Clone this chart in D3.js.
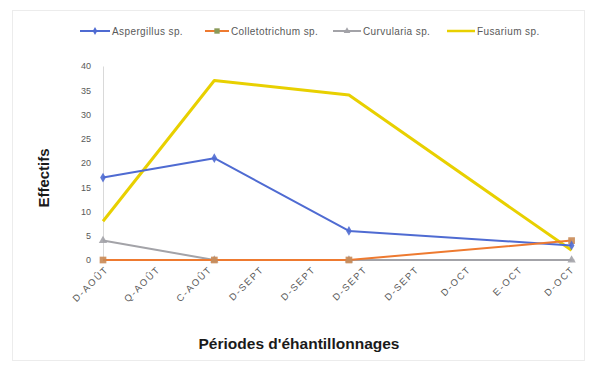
<!DOCTYPE html>
<html>
<head>
<meta charset="utf-8">
<script src="https://cdn.jsdelivr.net/npm/d3@7"></script>
<style>
  html, body { margin: 0; padding: 0; background: #fff; }
  svg { display: block; font-family: "Liberation Sans", "DejaVu Sans", sans-serif; }
</style>
</head>
<body>
<svg id="chart" width="590" height="367"></svg>
<script>
// Sampling periods shown on the axis (one label per tick)
const periodLabels = ["D-AOÛT", "Q-AOÛT", "C-AOÛT", "D-SEPT", "D-SEPT", "D-SEPT", "D-SEPT", "D-OCT", "E-OCT", "D-OCT"];
// Position of each sampling date along the period axis (in tick units)
const samplePositions = [0, 2.15, 4.75, 9.05];

// Counts per genus at each sampling date
const aspergillus = [17, 21, 6, 3];
const colletotrichum = [0, 0, 0, 4];
const curvularia = [4, 0, 0, 0];
const fusarium = [8, 37, 34, 2];

const yTicks = [0, 5, 10, 15, 20, 25, 30, 35, 40];

const series = [
  { name: "Aspergillus sp.", values: aspergillus, color: "#4F6BD2", marker: "diamond", width: 2 },
  { name: "Colletotrichum sp.", values: colletotrichum, color: "#EE7A30", marker: "square", width: 2 },
  { name: "Curvularia sp.", values: curvularia, color: "#A3A3A8", marker: "triangle", width: 2 },
  { name: "Fusarium sp.", values: fusarium, color: "#E8D000", marker: null, width: 3 }
];

const svg = d3.select("#chart");

// faint chart frame
svg.append("rect")
  .attr("x", 12.5).attr("y", 10.5)
  .attr("width", 572).attr("height", 350)
  .attr("fill", "none").attr("stroke", "#ececec");

const x = d3.scaleLinear().domain([0, 9]).range([103, 569]);
const y = d3.scaleLinear().domain([0, 40]).range([260, 66]);

// y axis
const yAxis = svg.append("g")
  .attr("transform", "translate(103,0)")
  .call(d3.axisLeft(y).tickValues(yTicks).tickSize(0).tickPadding(12));
yAxis.select(".domain").attr("stroke", "#d9d9d9");
yAxis.selectAll("text").attr("fill", "#595959").style("font-size", "9px");

// x axis
const xAxis = svg.append("g")
  .attr("transform", "translate(0,260)")
  .call(d3.axisBottom(x).tickValues(d3.range(periodLabels.length))
    .tickFormat(i => periodLabels[i]).tickSize(0).tickPadding(6));
xAxis.select(".domain").attr("stroke", "#d9d9d9").attr("d", "M103,0H575");
xAxis.selectAll("text")
  .attr("fill", "#595959")
  .style("font-size", "9.5px")
  .style("letter-spacing", "1.6px")
  .attr("text-anchor", "end")
  .attr("y", 0)
  .attr("dx", "-3")
  .attr("dy", "11")
  .attr("transform", "rotate(-45)");

// axis titles
svg.append("text")
  .attr("x", 299).attr("y", 349)
  .attr("text-anchor", "middle")
  .style("font-size", "15.5px").style("font-weight", "bold")
  .attr("fill", "#1a1a1a")
  .text("Périodes d'éhantillonnages");

svg.append("text")
  .attr("transform", "translate(49,178) rotate(-90)")
  .attr("text-anchor", "middle")
  .style("font-size", "15px").style("font-weight", "bold")
  .attr("fill", "#1a1a1a")
  .text("Effectifs");

const markerPath = {
  diamond: d3.symbol().type(d3.symbolDiamond).size(28)(),
  square: d3.symbol().type(d3.symbolSquare).size(45)(),
  triangle: d3.symbol().type(d3.symbolTriangle).size(30)()
};

const line = d3.line()
  .x((d, i) => x(samplePositions[i]))
  .y(d => y(d));

// draw order: Fusarium under the others at the right end
const drawOrder = [series[3], series[0], series[2], series[1]];
drawOrder.forEach(s => {
  svg.append("path")
    .datum(s.values)
    .attr("fill", "none")
    .attr("stroke", s.color)
    .attr("stroke-width", s.width)
    .attr("stroke-linejoin", "round")
    .attr("d", line);
});
// markers on top
[series[2], series[1], series[0]].forEach(s => {
  if (!s.marker) return;
  svg.selectAll(null)
    .data(s.values)
    .enter().append("path")
    .attr("d", markerPath[s.marker])
    .attr("transform", (d, i) => `translate(${x(samplePositions[i])},${y(d)})`)
    .attr("fill", s.marker === "square" ? "#C98A55" : s.color)
    .attr("opacity", 0.9);
});

// legend
const legendItems = [
  { s: series[0], x1: 80, x2: 110 },
  { s: series[1], x1: 205, x2: 229 },
  { s: series[2], x1: 333, x2: 361 },
  { s: series[3], x1: 447, x2: 475 }
];
const lg = svg.append("g");
legendItems.forEach(it => {
  lg.append("line")
    .attr("x1", it.x1).attr("x2", it.x2)
    .attr("y1", 31).attr("y2", 31)
    .attr("stroke", it.s.color).attr("stroke-width", it.s.width === 3 ? 2.5 : 2);
  if (it.s.marker) {
    lg.append("path")
      .attr("d", markerPath[it.s.marker])
      .attr("transform", `translate(${(it.x1 + it.x2) / 2},31) scale(0.8)`)
      .attr("fill", it.s.marker === "square" ? "#8a9a5a" : it.s.color);
  }
  lg.append("text")
    .attr("x", it.x2 + 2).attr("y", 34.5)
    .style("font-size", "10px")
    .style("letter-spacing", "0.4px")
    .attr("fill", "#595959")
    .text(it.s.name);
});
</script>
</body>
</html>
